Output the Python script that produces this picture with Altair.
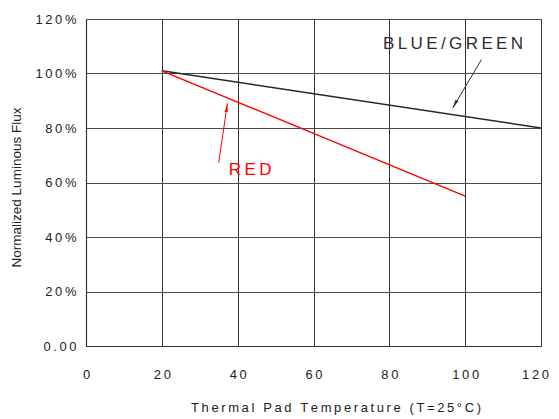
import altair as alt
import pandas as pd

# ---- data ----
blue_x = [20, 120]
blue_y = [101, 80]
red_x = [20, 100]
red_y = [101, 55]

x_ticks = [0, 20, 40, 60, 80, 100, 120]
y_ticks = [0, 20, 40, 60, 80, 100, 120]

# annotation texts and arrows (data coordinates)
ann_text = ["BLUE/GREEN", "RED"]
ann_tx = [96.8, 43.3]
ann_ty = [111.0, 64.6]
ann_color = ["#2b2d33", "#ff0000"]

arrow_x = [104.3, 35.0]
arrow_y = [105.1, 67.3]
arrow_x2 = [96.7, 37.3]
arrow_y2 = [87.3, 89.1]
arrow_angle = [209, 8]

SP = "\u2009"


def spaced(s):
    return SP.join(list(s))


def label_expr(mapping):
    parts = [f"datum.value == {k} ? '{spaced(v)}'" for k, v in mapping.items()]
    return " : ".join(parts) + " : ''"


x_lab = {v: str(v) for v in x_ticks}
y_lab = {v: ("0.00" if v == 0 else f"{v}%") for v in y_ticks}

lines_df = pd.DataFrame(
    {
        "t": blue_x + red_x,
        "flux": blue_y + red_y,
        "series": ["BLUE/GREEN"] * len(blue_x) + ["RED"] * len(red_x),
    }
)
ann_df = pd.DataFrame(
    {
        "text": [spaced(t) for t in ann_text],
        "x": ann_tx,
        "y": ann_ty,
        "color": ann_color,
    }
)
arrow_df = pd.DataFrame(
    {
        "x": arrow_x,
        "y": arrow_y,
        "x2": arrow_x2,
        "y2": arrow_y2,
        "angle": arrow_angle,
        "color": ann_color,
    }
)

FONT = "Liberation Sans"

xscale = alt.Scale(domain=[0, 120], nice=False, zero=False)
yscale = alt.Scale(domain=[0, 120], nice=False, zero=False)

xaxis = alt.Axis(
    values=x_ticks,
    title=spaced("Thermal Pad Temperature (T=25°C)"),
    titleX=249.5,
    titleY=61,
    titleAlign="center",
    titleBaseline="middle",
    titleFontSize=13,
    titleFontWeight="normal",
    titleFont=FONT,
    titleColor="#222222",
    labelExpr=label_expr(x_lab),
    labelFont=FONT,
    labelFontSize=13,
    labelColor="#222222",
    labelPadding=22,
    labelFlush=False,
    labelOverlap=False,
    labelBound=False,
    labelOffset={"condition": {"test": "datum.value == 120", "value": -6}, "value": 0},
    ticks=False,
    grid=True,
    gridColor="#333333",
    gridWidth=1,
    domainColor="#333333",
    domainWidth=1.2,
)
yaxis = alt.Axis(
    values=y_ticks,
    title="Normalized Luminous Flux",
    titleX=-69.5,
    titleY=168,
    titleAngle=-90,
    titleAlign="center",
    titleBaseline="middle",
    titleFontSize=13.5,
    titleFontWeight="normal",
    titleFont=FONT,
    titleColor="#222222",
    labelExpr=label_expr(y_lab),
    labelFont=FONT,
    labelFontSize=13,
    labelColor="#222222",
    labelPadding=10,
    labelFlush=False,
    labelOverlap=False,
    ticks=False,
    grid=True,
    gridColor="#4a4a4a",
    gridWidth=1,
    domainColor="#333333",
    domainWidth=1.2,
)

lines = (
    alt.Chart(lines_df)
    .mark_line(strokeWidth=1.4)
    .encode(
        x=alt.X("t:Q", scale=xscale, axis=xaxis),
        y=alt.Y("flux:Q", scale=yscale, axis=yaxis),
        color=alt.Color(
            "series:N",
            scale=alt.Scale(domain=["BLUE/GREEN", "RED"], range=["#25272e", "#ff0000"]),
            legend=None,
        ),
    )
)

arrows = (
    alt.Chart(arrow_df)
    .mark_rule(strokeWidth=1)
    .encode(
        x="x:Q",
        y="y:Q",
        x2="x2:Q",
        y2="y2:Q",
        color=alt.Color("color:N", scale=None),
    )
)

heads = (
    alt.Chart(arrow_df)
    .mark_point(
        shape="M0,0 L0.4,2.2 L-0.4,2.2 Z",
        filled=True,
        size=64,
        opacity=1,
    )
    .encode(
        x="x2:Q",
        y="y2:Q",
        angle=alt.Angle("angle:Q", scale=None),
        color=alt.Color("color:N", scale=None),
    )
)

texts = (
    alt.Chart(ann_df)
    .mark_text(font=FONT, fontSize=17, align="center", baseline="middle")
    .encode(
        x="x:Q",
        y="y:Q",
        text="text:N",
        color=alt.Color("color:N", scale=None),
    )
)

chart = (
    alt.layer(lines, arrows, heads, texts)
    .properties(
        width=455,
        height=327,
        autosize=alt.AutoSizeParams(type="none"),
        padding={"left": 78, "top": 11, "right": 10, "bottom": 72},
        background="white",
    )
    .configure_view(stroke=None)
)

chart.save("out.html", embed_options={"renderer": "svg", "actions": False})
